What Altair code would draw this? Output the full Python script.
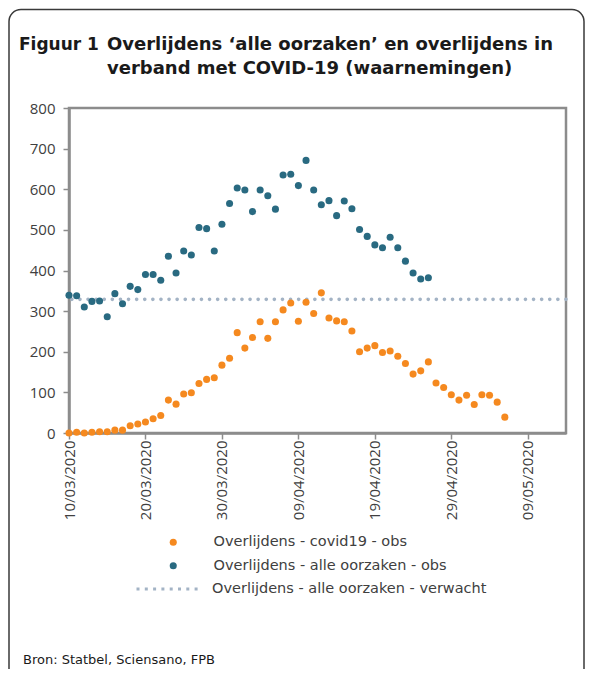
import altair as alt
import pandas as pd

# ---------------- data ----------------
start_date = "2020-03-10"
x_end = "2020-05-14"

covid_obs = [0, 2, 0, 2, 3, 3, 7, 7, 18, 22,
             27, 35, 43, 81, 71, 96, 99, 122, 132, 136,
             167, 184, 247, 209, 235, 274, 233, 274, 303, 320,
             275, 322, 294, 345, 283, 276, 274, 251, 200, 209,
             215, 198, 202, 189, 171, 145, 153, 175, 123, 112,
             94, 81, 93, 70, 94, 93, 76, 39]

alle_obs = [339, 338, 310, 324, 325, 286, 343, 318, 361, 353,
            390, 390, 376, 435, 394, 448, 438, 506, 503, 448,
            514, 565, 603, 598, 545, 598, 584, 551, 635, 637,
            609, 671, 598, 562, 572, 535, 571, 552, 501, 484,
            463, 456, 482, 456, 423, 394, 379, 382]

alle_verwacht = [329]

series_names = ["Overlijdens - covid19 - obs",
                "Overlijdens - alle oorzaken - obs",
                "Overlijdens - alle oorzaken - verwacht"]
series_colors = ["#f5891f", "#296a81", "#a3b3c5"]

tick_dates = ["2020-03-10", "2020-03-20", "2020-03-30", "2020-04-09",
              "2020-04-19", "2020-04-29", "2020-05-09"]
y_ticks = [0, 100, 200, 300, 400, 500, 600, 700, 800]

title_label = "Figuur 1"
title_lines = ["Overlijdens \u2018alle oorzaken\u2019 en overlijdens in",
               "verband met COVID-19 (waarnemingen)"]
source_text = "Bron: Statbel, Sciensano, FPB"

# ---------------- tables ----------------
def dates_for(n):
    return list(pd.date_range(start_date, periods=n, freq="D").strftime("%Y-%m-%d"))

pts = pd.concat([
    pd.DataFrame({"date": dates_for(len(covid_obs)), "value": covid_obs, "series": series_names[0]}),
    pd.DataFrame({"date": dates_for(len(alle_obs)), "value": alle_obs, "series": series_names[1]}),
], ignore_index=True)

exp_df = pd.DataFrame({"value": alle_verwacht, "series": [series_names[2]]})


def dt(s):
    y, m, d = map(int, s.split("-"))
    return alt.DateTime(year=y, month=m, date=d, utc=True)


y_scale = alt.Scale(domain=[0, 800], nice=False)
y_axis = alt.Axis(values=y_ticks, title=None, grid=False)

x_enc = alt.X(
    "date:T",
    scale=alt.Scale(type="utc", domain=[dt(start_date), dt(x_end)]),
    axis=alt.Axis(values=[dt(s) for s in tick_dates],
                  labelExpr="utcFormat(datum.value, '%d/%m/%Y')",
                  labelAngle=270, title=None, grid=False),
)

rule = alt.Chart(exp_df).mark_rule(
    strokeDash=[0.1, 8], strokeCap="round", strokeWidth=3.6
).encode(
    y=alt.Y("value:Q", scale=y_scale, axis=y_axis),
    color=alt.Color(
        "series:N",
        scale=alt.Scale(domain=[series_names[2]], range=[series_colors[2]]),
        legend=alt.Legend(
            title=None, orient="none", legendX=66, legendY=447,
            symbolType="stroke", symbolSize=4225, symbolDash=[3, 5.3],
            symbolStrokeWidth=3, labelOffset=9, padding=0, labelLimit=400,
        ),
    ),
)

points = alt.Chart(pts).mark_circle(size=50, opacity=1).encode(
    x=x_enc,
    y=alt.Y("value:Q", scale=y_scale, axis=y_axis),
    color=alt.Color(
        "series:N",
        scale=alt.Scale(domain=series_names[:2], range=series_colors[:2]),
        legend=alt.Legend(
            title=None, orient="none", legendX=97, legendY=427,
            symbolType="circle", symbolSize=50, labelOffset=33,
            rowPadding=8.5, padding=0, labelLimit=400,
        ),
    ),
)

one = pd.DataFrame({"t": [0]})

frame = alt.Chart(one).mark_rect(
    fillOpacity=0, stroke="#3a3a3a", strokeWidth=1.5, cornerRadius=12
).encode(
    x=alt.value(-60), x2=alt.value(515), y=alt.value(-98.5), y2=alt.value(600)
)

title_style = dict(align="left", baseline="alphabetic", font="DejaVu Sans",
                   fontSize=18, fontWeight="bold", color="#1a1a1a")

title0 = alt.Chart(pd.DataFrame({"t": [title_label]})).mark_text(
    **{**title_style, "fontSize": 17}).encode(
    text="t:N", x=alt.value(-50), y=alt.value(-58))

title1 = alt.Chart(pd.DataFrame({"t": [title_lines[0]]})).mark_text(**title_style).encode(
    text="t:N", x=alt.value(38), y=alt.value(-58))

title2 = alt.Chart(pd.DataFrame({"t": [title_lines[1]]})).mark_text(**title_style).encode(
    text="t:N", x=alt.value(38), y=alt.value(-34))

footer = alt.Chart(pd.DataFrame({"t": [source_text]})).mark_text(
    align="left", baseline="alphabetic", font="DejaVu Sans", fontSize=13,
    color="#1a1a1a"
).encode(text="t:N", x=alt.value(-46), y=alt.value(556))

chart = alt.layer(frame, rule, points, title0, title1, title2, footer).resolve_scale(
    color="independent"
).resolve_legend(
    color="independent"
).properties(
    width=497, height=325,
    background="white",
    autosize=alt.AutoSizeParams(type="none"),
    padding={"left": 61, "top": 100, "right": 19, "bottom": 236},
).configure_view(
    stroke="#8c8c8c", strokeWidth=2.5
).configure_axis(
    labelFont="Open Sans", labelFontSize=15, labelColor="#404040",
    domainColor="#8c8c8c", domainWidth=2.5, tickColor="#8c8c8c",
    tickWidth=1.5, tickSize=6,
).configure_axisY(
    labelPadding=8
).configure_axisX(
    labelPadding=1
).configure_legend(
    labelFont="DejaVu Sans", labelFontSize=14.5, labelColor="#404040"
)

chart.save("out.html", embed_options={"renderer": "svg", "actions": False})
